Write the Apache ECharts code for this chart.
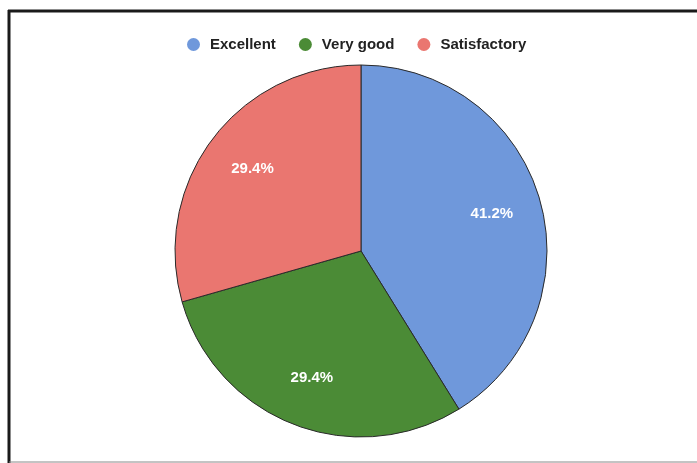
<!DOCTYPE html>
<html>
<head>
<meta charset="utf-8">
<script src="https://cdn.jsdelivr.net/npm/echarts@6/dist/echarts.min.js"></script>
<style>
  html, body { margin: 0; padding: 0; background: #ffffff; }
  #chart { width: 697px; height: 463px; }
</style>
</head>
<body>
<div id="chart"></div>
<script>
// Ratings of the course (counts of responses)
const categories = ['Excellent', 'Very good', 'Satisfactory'];
const counts = [7, 5, 5];
const colors = ['#6f98db', '#4b8b36', '#ea7670'];

const total = counts.reduce((a, b) => a + b, 0);
const slices = categories.map((name, i) => ({ name: name, value: counts[i] }));

const chart = echarts.init(document.getElementById('chart'));
chart.setOption({
  backgroundColor: '#ffffff',
  color: colors,
  animation: false,
  legend: {
    top: 32,
    left: 182,
    icon: 'circle',
    itemWidth: 13,
    itemHeight: 13,
    itemGap: 23,
    itemStyle: { borderWidth: 0 },
    textStyle: {
      fontFamily: 'Liberation Sans, Arial',
      fontWeight: 'bold',
      fontSize: 15,
      color: '#222',
      padding: [0, 0, 0, 5]
    },
    data: categories
  },
  graphic: [
    { type: 'line', shape: { x1: 8, y1: 11, x2: 697, y2: 11 }, style: { stroke: '#1a1a1a', lineWidth: 3 } },
    { type: 'line', shape: { x1: 9, y1: 10, x2: 9, y2: 463 }, style: { stroke: '#1a1a1a', lineWidth: 3 } },
    { type: 'line', shape: { x1: 9, y1: 462, x2: 697, y2: 462 }, style: { stroke: '#888', lineWidth: 1 } }
  ],
  series: [
    {
      type: 'pie',
      center: [361, 251],
      radius: [0, 186],
      startAngle: 90,
      clockwise: true,
      label: { show: false },
      labelLine: { show: false },
      itemStyle: { borderColor: '#2a2a2a', borderWidth: 1 },
      emphasis: { disabled: true },
      data: slices
    },
    {
      // Label ring: places the percentage labels at ~72% of the radius
      type: 'pie',
      center: [361, 251],
      radius: [80, 186],
      startAngle: 90,
      clockwise: true,
      silent: true,
      legendHoverLink: false,
      itemStyle: { color: 'rgba(0,0,0,0)', borderWidth: 0 },
      label: {
        show: true,
        position: 'inside',
        color: '#ffffff',
        fontFamily: 'Liberation Sans, Arial',
        fontWeight: 'bold',
        fontSize: 15,
        formatter: p => (p.value / total * 100).toFixed(1) + '%'
      },
      labelLine: { show: false },
      emphasis: { disabled: true },
      data: slices.map(s => ({ name: s.name + ' ', value: s.value }))
    }
  ]
});
</script>
</body>
</html>
